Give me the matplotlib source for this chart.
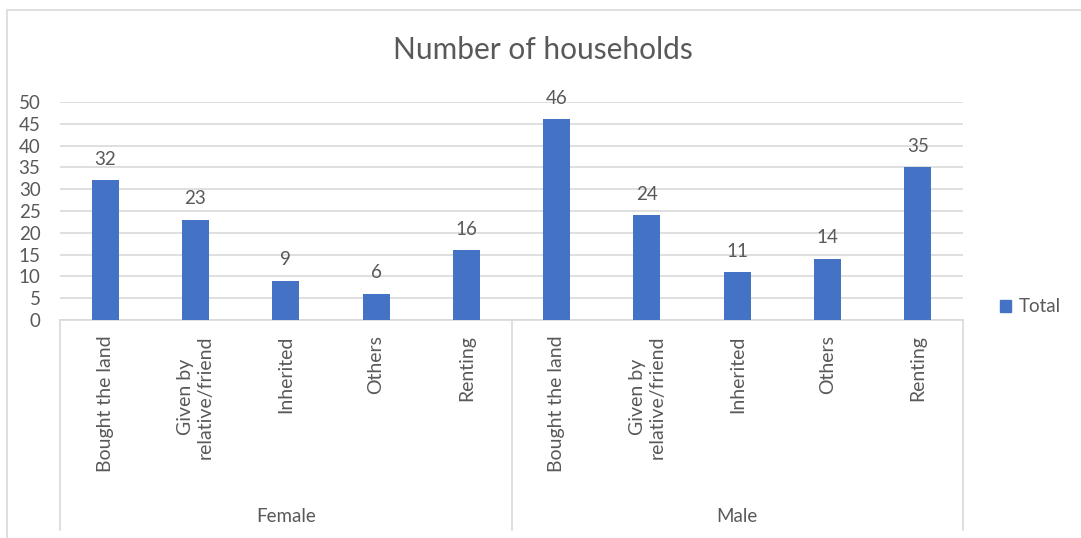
import numpy as np
import matplotlib.pyplot as plt
from matplotlib.patches import Rectangle, Patch

# -----------------------------
# Data
# -----------------------------
groups = ["Female", "Male"]
categories = ["Bought the land", "Given by\nrelative/friend", "Inherited", "Others", "Renting"]
female_values = [32, 23, 9, 6, 16]
male_values = [46, 24, 11, 14, 35]
y_ticks = [0, 5, 10, 15, 20, 25, 30, 35, 40, 45, 50]

BAR_COLOR = "#4472C4"
GRID_COLOR = "#D9D9D9"
TEXT_COLOR = "#595959"

plt.rcParams["font.family"] = ["Lato", "DejaVu Sans"]

values = female_values + male_values
labels = categories * len(groups)
x = np.arange(len(values))

fig = plt.figure(figsize=(10.81, 5.38), dpi=100)
ax = fig.add_axes([60 / 1081, 218 / 538, 903 / 1081, 218 / 538])

# chart border
fig.patches.append(Rectangle((7 / 1081, -0.05), 1.2, (538 - 10) / 538 + 0.05,
                             transform=fig.transFigure, fill=False,
                             edgecolor=GRID_COLOR, lw=1.2))

bars = ax.bar(x, values, width=0.3, color=BAR_COLOR, zorder=3)
for xi, v in zip(x, values):
    ax.annotate(str(v), (xi, v), xytext=(0, 9), textcoords="offset points",
                ha="center", va="bottom", fontsize=13.5, color=TEXT_COLOR)

ax.set_xlim(-0.5, len(values) - 0.5)
ax.set_ylim(0, 50)
ax.set_yticks(y_ticks)
ax.tick_params(axis="y", length=0, pad=14, labelsize=13.5, labelcolor=TEXT_COLOR)
ax.set_xticks([])
ax.yaxis.grid(True, color=GRID_COLOR, lw=1.2, zorder=0)
for side in ["top", "right", "left"]:
    ax.spines[side].set_visible(False)
ax.spines["bottom"].set_color(GRID_COLOR)
ax.spines["bottom"].set_linewidth(1.2)

# multi-level category axis
trans = ax.get_xaxis_transform()
for xi, lab in zip(x, labels):
    ax.text(xi, -0.07, lab, transform=trans, rotation=90, ha="center", va="top",
            multialignment="center", fontsize=14, color=TEXT_COLOR)

n = len(categories)
for g, name in enumerate(groups):
    ax.text(g * n + (n - 1) / 2, -0.9, name, transform=trans, ha="center", va="center",
            fontsize=13.5, color=TEXT_COLOR)
for xb in [-0.5, n - 0.5, 2 * n - 0.5]:
    ax.plot([xb, xb], [0, -0.963], transform=trans, color=GRID_COLOR, lw=1.2,
            clip_on=False)

fig.text(543 / 1081, 1 - 50 / 538, "Number of households", ha="center", va="center",
         fontsize=21.5, color=TEXT_COLOR)

ax.legend(handles=[Patch(color=BAR_COLOR, label="Total")], loc="center left",
          bbox_to_anchor=(1.041, 0.06), frameon=False, handlelength=0.6,
          handleheight=0.6, handletextpad=0.4, borderpad=0, borderaxespad=0,
          fontsize=13.5, labelcolor=TEXT_COLOR)

fig.savefig("out.png", dpi=100)
